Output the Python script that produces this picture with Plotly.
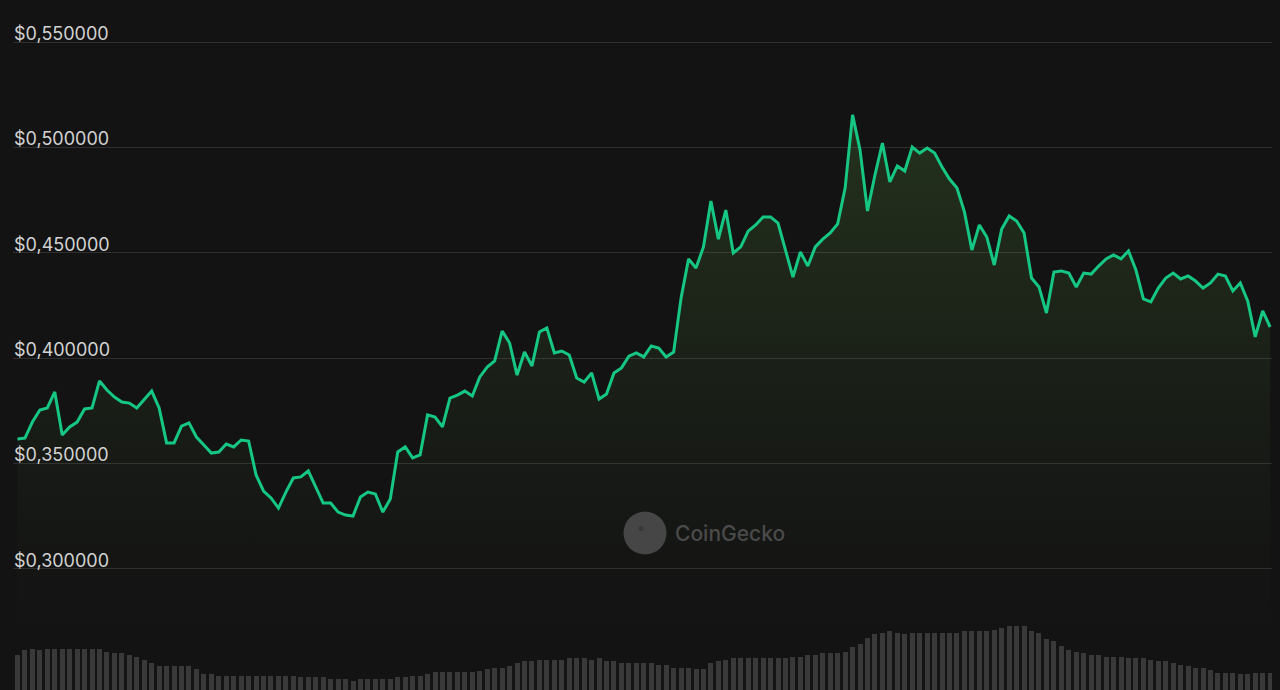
import pandas as pd
import plotly.graph_objects as go

# ---- data -------------------------------------------------------------
timestamps = pd.date_range("2024-03-01 00:00", periods=169, freq="h")

price = [
    0.3617, 0.3621, 0.3697, 0.3754, 0.3764, 0.3840, 0.3636, 0.3674, 0.3697, 0.3759,
    0.3764, 0.3892, 0.3849, 0.3816, 0.3792, 0.3787, 0.3764, 0.3802, 0.3844, 0.3764,
    0.3598, 0.3598, 0.3678, 0.3693, 0.3626, 0.3588, 0.3550, 0.3555, 0.3593, 0.3579,
    0.3612, 0.3607, 0.3446, 0.3370, 0.3337, 0.3289, 0.3365, 0.3432, 0.3437, 0.3465,
    0.3389, 0.3313, 0.3313, 0.3270, 0.3256, 0.3251, 0.3342, 0.3365, 0.3356, 0.3270,
    0.3332, 0.3555, 0.3579, 0.3527, 0.3541, 0.3731, 0.3721, 0.3674, 0.3811, 0.3825,
    0.3844, 0.3821, 0.3911, 0.3958, 0.3987, 0.4129, 0.4072, 0.3920, 0.4029, 0.3963,
    0.4124, 0.4143, 0.4025, 0.4034, 0.4015, 0.3906, 0.3887, 0.3930, 0.3806, 0.3830,
    0.3930, 0.3954, 0.4010, 0.4025, 0.4006, 0.4058, 0.4048, 0.4006, 0.4029, 0.4286,
    0.4471, 0.4428, 0.4528, 0.4746, 0.4565, 0.4703, 0.4499, 0.4528, 0.4603, 0.4632,
    0.4670, 0.4670, 0.4641, 0.4513, 0.4385, 0.4504, 0.4437, 0.4528, 0.4565, 0.4594,
    0.4637, 0.4807, 0.5154, 0.4988, 0.4698, 0.4869, 0.5021, 0.4836, 0.4912, 0.4888,
    0.5002, 0.4973, 0.4997, 0.4973, 0.4907, 0.4850, 0.4807, 0.4694, 0.4513, 0.4632,
    0.4575, 0.4442, 0.4613, 0.4675, 0.4651, 0.4594, 0.4380, 0.4338, 0.4214, 0.4409,
    0.4414, 0.4404, 0.4338, 0.4404, 0.4399, 0.4437, 0.4471, 0.4490, 0.4471, 0.4509,
    0.4418, 0.4281, 0.4267, 0.4333, 0.4380, 0.4404, 0.4376, 0.4390, 0.4366, 0.4333,
    0.4357, 0.4399, 0.4390, 0.4319, 0.4357, 0.4271, 0.4101, 0.4224, 0.4148,
]

volume_musd = [
    105, 119, 123, 120, 123, 123, 123, 123, 123, 123,
    123, 123, 114, 111, 111, 105, 99, 90, 81, 72,
    72, 72, 72, 72, 63, 48, 48, 43, 43, 43,
    43, 43, 43, 43, 43, 43, 43, 43, 39, 39,
    39, 39, 33, 33, 33, 28, 33, 33, 33, 33,
    33, 39, 39, 43, 43, 48, 54, 54, 54, 54,
    54, 54, 57, 63, 66, 66, 72, 81, 87, 87,
    90, 90, 90, 90, 96, 96, 96, 90, 96, 87,
    87, 81, 81, 81, 81, 81, 76, 76, 66, 66,
    66, 63, 63, 81, 87, 90, 96, 96, 96, 96,
    96, 96, 96, 96, 100, 100, 105, 105, 111, 111,
    111, 114, 129, 138, 157, 167, 171, 176, 171, 167,
    171, 171, 171, 171, 171, 171, 171, 176, 176, 176,
    176, 181, 186, 191, 191, 191, 176, 171, 153, 147,
    133, 119, 114, 111, 105, 105, 100, 100, 100, 95,
    95, 95, 90, 86, 86, 81, 76, 71, 66, 66,
    61, 52, 52, 52, 47, 47, 52, 52, 52,
]

tick_values = [0.30, 0.35, 0.40, 0.45, 0.50, 0.55]
tick_labels = ["$0,300000", "$0,350000", "$0,400000", "$0,450000", "$0,500000", "$0,550000"]

# ---- style ------------------------------------------------------------
BG = "#131313"
LINE = "#16c784"
BAR = "#393939"
GRID = "#2f2f2f"
W, H = 1280, 690
M_L, M_R = 13, 8

hour = pd.Timedelta(hours=1)
x_range = [timestamps[0] - 0.6 * hour, timestamps[-1] + 0.25 * hour]

fig = go.Figure()

fig.add_trace(go.Bar(
    x=timestamps, y=volume_musd, yaxis="y2",
    marker=dict(color=BAR, line=dict(width=0)),
    width=0.67 * 3600 * 1000,
    hoverinfo="skip", showlegend=False,
))

fig.add_trace(go.Scatter(
    x=timestamps, y=price, mode="lines",
    line=dict(color=LINE, width=3, shape="linear"),
    fill="tozeroy",
    fillgradient=dict(
        type="vertical",
        colorscale=[[0, "rgba(119,199,79,0.0)"], [0.35, "rgba(119,199,79,0.04)"], [1, "rgba(119,199,79,0.17)"]],
        start=0.27, stop=0.515,
    ),
    showlegend=False,
))

fig.add_shape(type="circle", xref="paper", yref="paper",
              x0=(623.5 - M_L) / (W - M_L - M_R), x1=(666.5 - M_L) / (W - M_L - M_R),
              y0=1 - 554.5 / H, y1=1 - 511.5 / H,
              fillcolor="#464646", line=dict(width=0), layer="above")
fig.add_shape(type="circle", xref="paper", yref="paper",
              x0=(638.5 - M_L) / (W - M_L - M_R), x1=(643.5 - M_L) / (W - M_L - M_R),
              y0=1 - 531 / H, y1=1 - 526 / H,
              fillcolor="#383838", line=dict(width=0), layer="above")
fig.add_annotation(text="CoinGecko", xref="paper", yref="paper",
                   x=(673 - M_L) / (W - M_L - M_R), y=1 - 533 / H,
                   xanchor="left", yanchor="middle", showarrow=False,
                   font=dict(family="Inter", size=21, color="#4a4a4a", weight=500))

fig.update_layout(
    width=W, height=H,
    margin=dict(l=M_L, r=M_R, t=0, b=0, pad=0),
    paper_bgcolor=BG, plot_bgcolor=BG,
    bargap=0,
    xaxis=dict(range=x_range, visible=False, showgrid=False, zeroline=False),
    yaxis=dict(
        range=[0.242594, 0.569924],
        tickmode="array", tickvals=tick_values, ticktext=tick_labels,
        ticklabelposition="inside top", ticks="",
        ticklabelshift=4, ticklabelstandoff=-2,
        showgrid=True, gridcolor=GRID, gridwidth=1,
        zeroline=False, showline=False,
        tickfont=dict(family="Inter", size=18, color="#d2d2d2"),
    ),
    yaxis2=dict(
        overlaying="y", range=[0, 690 * 3], visible=False,
        showgrid=False, zeroline=False,
    ),
    hovermode=False,
)

fig.write_html("out.html", config={"displayModeBar": False})
